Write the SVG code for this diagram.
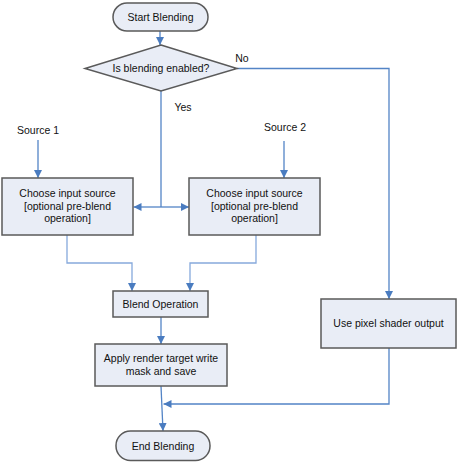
<svg xmlns="http://www.w3.org/2000/svg" width="457" height="462" viewBox="0 0 457 462">
<style>
.box{fill:#e9edf6;stroke:#5a5a5a;stroke-width:1.5}
.ln{fill:none;stroke:#5384c6;stroke-width:1.3}
.lt{fill:none;stroke:#86a9dc;stroke-width:1.3}
text{font-family:"Liberation Sans",Arial,sans-serif;font-size:10.5px;fill:#111;text-anchor:middle}
</style>
<defs>
<marker id="ah" viewBox="0 0 10 10" refX="10" refY="5" markerWidth="8" markerHeight="8" markerUnits="userSpaceOnUse" orient="auto">
<path d="M0,0 L10,5 L0,10 z" fill="#4a7cc0"/>
</marker>
</defs>
<rect width="457" height="462" fill="#ffffff"/>
<g id="connectors">
<path class="ln" d="M160,31 V45" marker-end="url(#ah)"/>
<path class="ln" d="M237,68.5 H389 V299" marker-end="url(#ah)"/>
<path class="ln" d="M161,91 V207"/>
<path class="ln" d="M161,207 H133.5" marker-end="url(#ah)"/>
<path class="ln" d="M161,207 H189" marker-end="url(#ah)"/>
<path class="ln" d="M38,140 V178" marker-end="url(#ah)"/>
<path class="ln" d="M284,141 V178" marker-end="url(#ah)"/>
<path class="lt" d="M67,235 V263 H132 V291" marker-end="url(#ah)"/>
<path class="lt" d="M256,235 V263 H190 V291" marker-end="url(#ah)"/>
<path class="ln" d="M161,317 V344" marker-end="url(#ah)"/>
<path class="ln" d="M161,386 L163,431" marker-end="url(#ah)"/>
<path class="ln" d="M389,348 V404 H163.5" marker-end="url(#ah)"/>
<text x="242" y="62">No</text>
<text x="183" y="111">Yes</text>
</g>
<g id="start">
<rect class="box" x="113" y="3" width="95" height="28" rx="14"/>
<text x="160.5" y="21">Start Blending</text>
</g>
<g id="decision">
<polygon class="box" points="161,45 237,68.5 161,91 85,68.5"/>
<text x="161" y="72">Is blending enabled?</text>
</g>
<g id="source1">
<text x="38" y="134">Source 1</text>
</g>
<g id="source2">
<text x="285" y="131">Source 2</text>
</g>
<g id="choose1">
<rect class="box" x="2" y="178" width="131" height="57"/>
<text x="67.5" y="197">Choose input source</text>
<text x="67.5" y="209.5">[optional pre-blend</text>
<text x="67.5" y="222">operation]</text>
</g>
<g id="choose2">
<rect class="box" x="189" y="178" width="131" height="57"/>
<text x="254.5" y="197">Choose input source</text>
<text x="254.5" y="209.5">[optional pre-blend</text>
<text x="254.5" y="222">operation]</text>
</g>
<g id="blend">
<rect class="box" x="113" y="291" width="95" height="26"/>
<text x="160.5" y="307.5">Blend Operation</text>
</g>
<g id="apply">
<rect class="box" x="95" y="344" width="132" height="42"/>
<text x="161" y="362">Apply render target write</text>
<text x="161" y="374.5">mask and save</text>
</g>
<g id="pixel">
<rect class="box" x="321" y="299" width="135" height="49"/>
<text x="388.5" y="326.5">Use pixel shader output</text>
</g>
<g id="end">
<rect class="box" x="116" y="431" width="94" height="29.5" rx="14.5"/>
<text x="163" y="449.5">End Blending</text>
</g>
</svg>
